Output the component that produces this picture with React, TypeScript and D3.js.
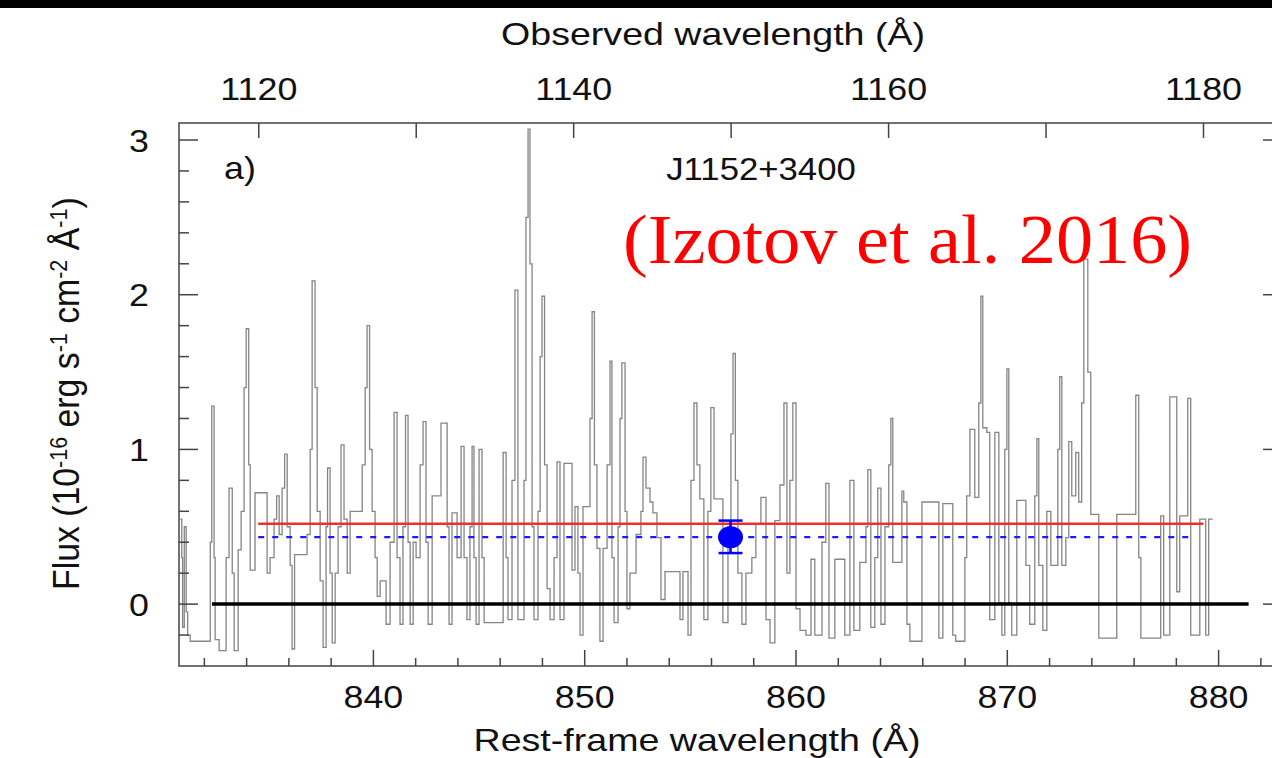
import { useRef, useEffect } from 'react';
import * as d3 from 'd3';

// rest-frame wavelength (Å) where each step of the spectrum begins
const restWave = [
  830.86, 830.93, 830.97, 831.05, 831.14, 831.21, 831.33, 832.28, 832.35, 832.46,
  832.51, 832.70, 833.03, 833.17, 833.32, 833.41, 833.60, 833.74, 833.88, 833.98,
  834.10, 834.17, 834.40, 834.97, 835.11, 835.30, 835.42, 835.54, 835.68, 835.80,
  835.92, 836.06, 836.15, 836.27, 836.86, 837.01, 837.10, 837.24, 837.34, 837.48,
  837.62, 837.76, 837.83, 837.95, 838.05, 838.19, 838.33, 838.47, 838.61, 838.76,
  838.90, 839.47, 839.61, 839.70, 839.82, 839.94, 840.08, 840.18, 840.32, 840.60,
  840.79, 840.98, 841.12, 841.26, 841.40, 841.52, 841.64, 841.74, 841.88, 842.02,
  842.21, 842.35, 842.49, 842.59, 842.78, 843.20, 843.49, 843.58, 843.72, 843.96,
  844.15, 844.29, 844.43, 844.57, 844.67, 844.76, 844.86, 845.00, 845.14, 845.24,
  846.14, 846.28, 846.37, 846.56, 846.70, 846.84, 847.13, 847.22, 847.32, 847.41,
  847.51, 847.60, 847.79, 847.89, 847.98, 848.10, 848.22, 848.36, 848.55, 848.69,
  848.83, 849.02, 849.40, 849.54, 849.68, 849.78, 849.92, 850.25, 850.35, 850.46,
  850.58, 850.72, 850.87, 851.06, 851.20, 851.29, 851.39, 851.58, 851.67, 851.76,
  851.91, 852.00, 852.14, 852.43, 852.66, 852.76, 852.90, 853.09, 853.23, 853.42,
  853.61, 853.80, 854.51, 854.65, 854.89, 855.03, 855.17, 855.31, 855.45, 855.64,
  855.83, 855.97, 856.12, 856.54, 856.78, 856.92, 857.02, 857.13, 857.25, 857.44,
  857.63, 857.91, 858.10, 858.34, 858.58, 858.77, 859.00, 859.24, 859.43, 859.57,
  859.71, 859.85, 860.00, 860.19, 860.47, 860.71, 860.89, 861.23, 861.41, 861.56,
  861.84, 862.31, 862.55, 862.74, 863.02, 863.31, 863.40, 863.54, 863.73, 863.87,
  864.02, 864.21, 864.39, 864.49, 864.58, 865.01, 865.10, 865.25, 865.39, 865.96,
  866.76, 866.95, 867.42, 867.56, 867.99, 868.08, 868.23, 868.46, 868.65, 868.75,
  868.84, 869.03, 869.17, 869.41, 869.60, 869.74, 869.88, 869.98, 870.07, 870.21,
  870.45, 870.88, 871.06, 871.30, 871.40, 871.49, 871.68, 871.87, 872.06, 872.39,
  872.48, 872.58, 872.77, 872.91, 873.05, 873.24, 873.38, 873.52, 873.62, 873.81,
  873.95, 874.33, 875.18, 876.08, 876.22, 876.32, 877.26, 877.40, 877.69, 878.02,
  878.16, 878.54, 878.68, 879.11, 879.39, 879.53, 879.72,
];

// flux (1e-16 erg s^-1 cm^-2 Å^-1) of each step
const flux = [
  0.55, 0.3, -0.15, 0.5, -0.05, -0.2, -0.24, 0.4, 1.28, 0.3,
  -0.23, -0.3, 0.3, 0.75, 0.2, -0.3, 0.35, 0.6, 1.4, 1.78,
  0.9, 0.22, 0.72, 0.2, 0.3, 0.55, 0.7, 0.45, 0.75, 0.97,
  0.5, 0.25, -0.29, 0.32, 0.45, 1.0, 2.09, 1.4, 0.6, 0.15,
  -0.28, 0.5, 0.88, 0.2, -0.25, 0.2, 0.5, 1.03, 0.55, 0.2,
  0.6, 0.9, 1.4, 1.8, 1.0, 0.6, 0.3, 0.05, 0.15, -0.13,
  0.4, 1.24, 0.3, -0.13, 0.5, 1.22, 0.4, -0.13, 0.4, 0.3,
  0.9, 1.18, 0.4, -0.13, 0.7, 1.17, 0.5, -0.13, 0.59, 0.3,
  1.02, 0.3, -0.1, 0.5, 1.02, 0.3, -0.13, 1.0, 0.3, -0.12,
  0.98, 0.3, -0.1, 0.8, 2.03, -0.1, 0.8, 2.5, 3.07, 2.2,
  0.5, -0.1, 0.6, 1.6, 1.99, 0.9, 0.1, -0.1, 0.3, 0.92,
  -0.1, 0.91, 0.22, 0.63, 0.2, -0.2, 0.63, 1.2, 1.89, 0.9,
  0.36, -0.24, 0.36, 0.9, 1.57, 0.3, -0.12, 0.5, 1.2, 1.56,
  0.6, -0.03, 0.2, 0.45, 0.6, 0.95, 0.75, 0.66, 0.59, 0.43,
  0.03, 0.21, -0.1, 0.21, -0.2, 0.8, 1.3, 0.9, 0.68, -0.1,
  0.6, 1.27, 0.68, -0.12, 0.5, 1.1, 1.62, 0.8, 0.2, -0.13,
  0.2, 0.3, 0.52, 0.69, -0.1, -0.25, 0.54, 0.77, 1.3, 0.2,
  0.8, 1.3, -0.03, -0.17, -0.2, 0.29, -0.2, 0.4, 0.78, -0.22,
  0.29, -0.2, 0.8, -0.17, 0.27, 0.5, 0.87, -0.15, 0.3, 0.75,
  -0.13, 0.5, 0.9, 1.2, 0.27, 0.73, 0.66, -0.13, -0.24, 0.66,
  -0.22, 0.65, -0.2, -0.24, 0.3, 0.7, 1.13, 0.69, 1.3, 1.99,
  1.14, 1.11, -0.1, 1.11, 0.01, -0.2, 1.0, 1.52, 0.01, -0.2,
  0.67, 0.25, -0.13, 0.7, 1.07, 0.25, -0.17, 0.6, 0.25, 1.0,
  1.47, 0.25, 0.43, 1.05, 0.7, 0.98, 0.66, 1.3, 2.23, 1.5,
  0.58, -0.22, 0.58, 1.35, 0.3, -0.22, 0.57, -0.2, 1.34, 0.08,
  0.57, 1.33, -0.2, 0.55, -0.2, 0.55, 0.55,
];

const yMajor = [0, 1, 2, 3];
const yMinor = [-0.2, 0.2, 0.4, 0.6, 0.8, 1.2, 1.4, 1.6, 1.8, 2.2, 2.4, 2.6, 2.8];
const restMajor = [840, 850, 860, 870, 880];
const restMinor = [832, 834, 836, 838, 842, 844, 846, 848, 852, 854, 856, 858, 862, 864, 866, 868, 872, 874, 876, 878, 882];
const obsTicks = [1120, 1130, 1140, 1150, 1160, 1170, 1180];
const obsLabels = [1120, 1140, 1160, 1180];
const redshift = 0.342;

const zeroLine = [832.36, 881.42];
const redLine = { from: 834.55, to: 879.28, level: 0.52 };
const blueLine = { from: 834.55, to: 878.85, level: 0.433 };
const point = { wave: 856.9, value: 0.433, lo: 0.33, hi: 0.54 };

// y-axis title pieces: [text, superscript?]
const yTitle: [string, boolean][] = [
  ['Flux (10', false], ['-16', true], [' erg s', false], ['-1', true],
  [' cm', false], ['-2', true], [' Å', false], ['-1', true], [')', false],
];

const W = 1272;
const H = 758;
const SX = 1.12; // the picture is a little stretched sideways
const FONT = 'Liberation Sans, Arial, Helvetica, sans-serif';

export default function App() {
  const ref = useRef<SVGSVGElement>(null);

  useEffect(() => {
    const svg = d3.select(ref.current);
    svg.selectAll('*').remove();

    const left = 179, right = 1282, top = 123, bottom = 666;
    const x = d3.scaleLinear().domain([830.8, 883.0]).range([left, right]);
    const y = d3.scaleLinear().domain([-0.4, 3.11]).range([bottom, top]);
    const xObs = (w: number) => x(w / (1 + redshift));

    svg.append('rect').attr('width', W).attr('height', H).attr('fill', '#fff');
    svg.append('rect').attr('width', W).attr('height', 8).attr('fill', '#000');

    const text = (tx: number, ty: number, s: string, anchor = 'middle', size = 32) =>
      svg.append('text')
        .attr('transform', `translate(${tx},${ty}) scale(${SX},1)`)
        .attr('text-anchor', anchor)
        .attr('font-family', FONT)
        .attr('font-size', size)
        .attr('fill', '#111')
        .text(s);

    // spectrum
    const pts: [number, number][] = restWave.map((w, i) => [w, flux[i]]);
    const line = d3.line<[number, number]>()
      .x(d => x(d[0]))
      .y(d => y(d[1]))
      .curve(d3.curveStepAfter);
    svg.append('path')
      .attr('d', line(pts))
      .attr('fill', 'none')
      .attr('stroke', '#858585')
      .attr('stroke-width', 1.3);

    // zero level
    svg.append('line')
      .attr('x1', x(zeroLine[0])).attr('x2', x(zeroLine[1]))
      .attr('y1', y(0)).attr('y2', y(0))
      .attr('stroke', '#000').attr('stroke-width', 3.5);

    // red solid and blue dashed levels
    svg.append('line')
      .attr('x1', x(redLine.from)).attr('x2', x(redLine.to))
      .attr('y1', y(redLine.level)).attr('y2', y(redLine.level))
      .attr('stroke', '#e8322e').attr('stroke-width', 2.6);
    svg.append('line')
      .attr('x1', x(blueLine.from)).attr('x2', x(blueLine.to))
      .attr('y1', y(blueLine.level)).attr('y2', y(blueLine.level))
      .attr('stroke', '#1a1aff').attr('stroke-width', 2.4)
      .attr('stroke-dasharray', '6 8');

    // measured point with error bar
    const px = x(point.wave);
    svg.append('line')
      .attr('x1', px).attr('x2', px).attr('y1', y(point.lo)).attr('y2', y(point.hi))
      .attr('stroke', '#0000ff').attr('stroke-width', 2.5);
    [point.lo, point.hi].forEach(v => {
      svg.append('line')
        .attr('x1', px - 12).attr('x2', px + 12).attr('y1', y(v)).attr('y2', y(v))
        .attr('stroke', '#0000ff').attr('stroke-width', 2.5);
    });
    svg.append('ellipse')
      .attr('cx', px).attr('cy', y(point.value)).attr('rx', 12.5).attr('ry', 11)
      .attr('fill', '#0000ff');

    // frame and ticks
    svg.append('rect')
      .attr('x', left).attr('y', top).attr('width', right - left).attr('height', bottom - top)
      .attr('fill', 'none').attr('stroke', '#444').attr('stroke-width', 1.5);

    const tick = (x1: number, y1: number, x2: number, y2: number) =>
      svg.append('line').attr('x1', x1).attr('y1', y1).attr('x2', x2).attr('y2', y2)
        .attr('stroke', '#444').attr('stroke-width', 1.5);

    yMajor.forEach(v => { tick(left, y(v), left + 19, y(v)); tick(right, y(v), right - 19, y(v)); });
    yMinor.forEach(v => { tick(left, y(v), left + 10, y(v)); tick(right, y(v), right - 10, y(v)); });
    restMajor.forEach(v => tick(x(v), bottom, x(v), bottom - 16));
    restMinor.forEach(v => tick(x(v), bottom, x(v), bottom - 8));
    obsTicks.forEach(v => tick(xObs(v), top, xObs(v), top + 15));

    // tick labels
    yMajor.forEach(v => text(149, y(v) + 11.5, String(v), 'end'));
    restMajor.forEach(v => text(x(v), 708, String(v)));
    obsLabels.forEach(v => text(xObs(v), 100, String(v)));

    // axis titles
    text(713, 45, 'Observed wavelength (Å)', 'middle', 31)
      .attr('textLength', 424 / SX).attr('lengthAdjust', 'spacingAndGlyphs');
    text(697, 751, 'Rest-frame wavelength (Å)', 'middle', 31)
      .attr('textLength', 447 / SX).attr('lengthAdjust', 'spacingAndGlyphs');

    const yt = svg.append('text')
      .attr('transform', `translate(79,590) scale(${SX},1) rotate(-90)`)
      .attr('font-family', FONT).attr('font-size', 33.8).attr('fill', '#111');
    let raised = false;
    yTitle.forEach(([s, sup]) => {
      const shift = sup ? -11 : raised ? 11 : 0;
      yt.append('tspan')
        .attr('font-size', sup ? 21.5 : 33.8)
        .attr('dy', shift)
        .text(s);
      raised = sup;
    });

    // panel labels
    text(224, 179, 'a)', 'start', 32);
    text(761, 180, 'J1152+3400', 'middle', 31);

    svg.append('text')
      .attr('x', 623).attr('y', 263)
      .attr('font-family', 'Liberation Serif, Times New Roman, serif')
      .attr('font-size', 70)
      .attr('fill', '#ff0000')
      .attr('textLength', 569).attr('lengthAdjust', 'spacingAndGlyphs')
      .text('(Izotov et al. 2016)');
  }, []);

  return (
    <svg
      ref={ref}
      width={W}
      height={H}
      style={{ position: 'absolute', left: 0, top: 0, overflow: 'hidden' }}
    />
  );
}
